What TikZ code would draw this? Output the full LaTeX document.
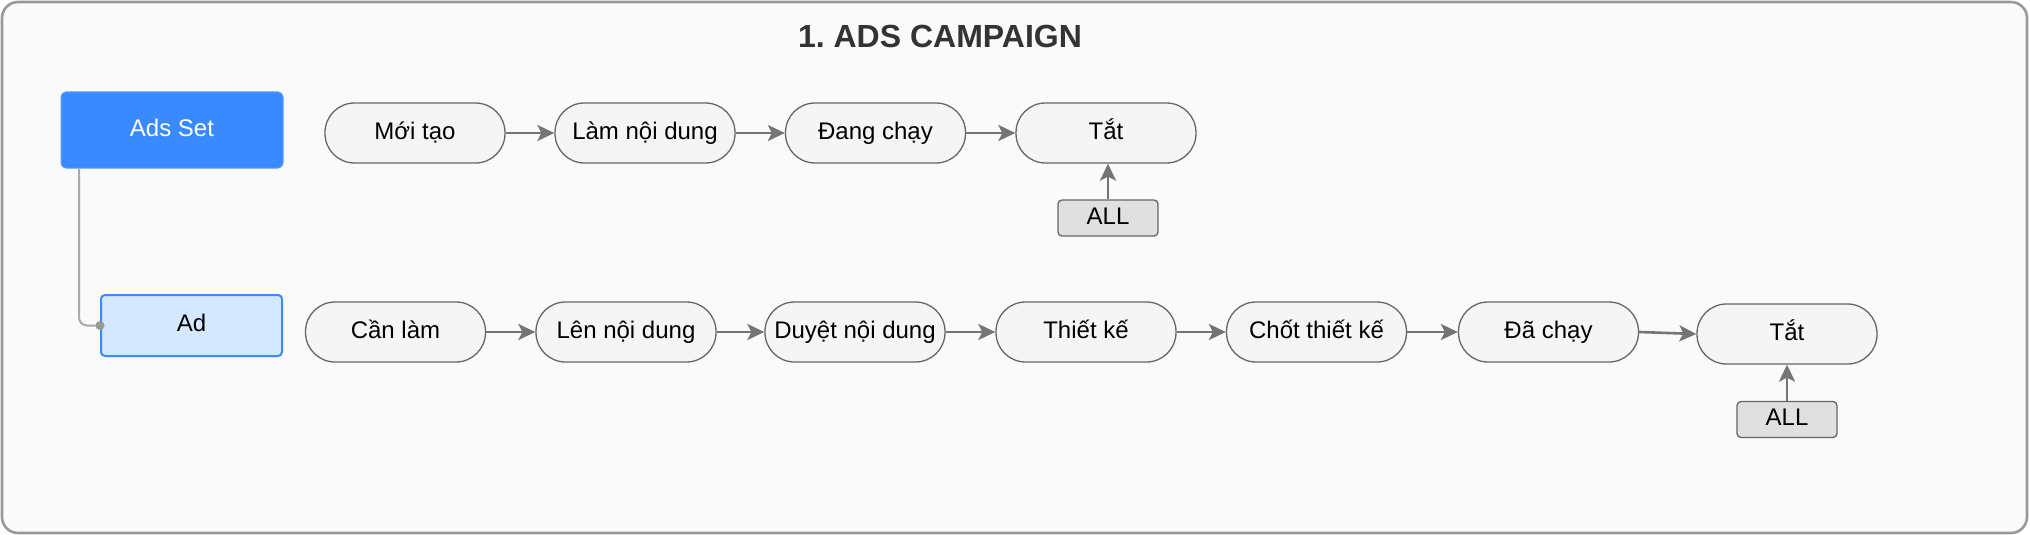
\documentclass[tikz,border=0pt]{standalone}
\usepackage{fontspec}
\setmainfont{Liberation Sans}
\usetikzlibrary{arrows.meta}
\frenchspacing
\definecolor{framegray}{HTML}{999999}
\definecolor{bgcol}{HTML}{FAFAFA}
\definecolor{pillfill}{HTML}{F5F5F5}
\definecolor{pilldraw}{HTML}{666666}
\definecolor{arrowgray}{HTML}{757575}
\definecolor{allfill}{HTML}{E0E0E0}
\definecolor{setblue}{HTML}{3A8AFF}
\definecolor{adfill}{HTML}{D4E8FF}
\definecolor{titlecol}{HTML}{333333}
\definecolor{linkgray}{HTML}{AAAAAA}
\tikzset{
  txt/.style={font=\fontsize{24}{28}\selectfont, text=black, text height=17pt, text depth=5pt},
  pill/.style={txt, draw=pilldraw, fill=pillfill, line width=1.3pt, rounded corners=29.5pt, minimum width=180pt, minimum height=60pt, inner sep=0pt},
  allbox/.style={txt, draw=pilldraw, fill=allfill, line width=1.3pt, rounded corners=4pt, minimum width=100pt, minimum height=36pt, inner sep=0pt},
  flow/.style={draw=arrowgray, line width=2.6pt, -{Stealth[length=17pt, width=16pt, inset=4pt]}},
}
\begin{document}
\begin{tikzpicture}[x=1pt,y=-1pt]
\useasboundingbox (0,0) rectangle (2030,535);
\draw[framegray, fill=bgcol, line width=2.6pt, rounded corners=16pt] (2,2) rectangle (2027,533);
\node[font=\fontsize{32}{36}\selectfont\bfseries, text=titlecol] (title) at (940,36) {1. ADS CAMPAIGN};

\node[txt, text=white, fill=setblue, draw=setblue!85!white, line width=1pt, rounded corners=5pt, minimum width=222pt, minimum height=76pt, inner sep=0pt] (adsset) at (172,130) {Ads Set};
\node[txt, fill=adfill, draw=setblue, line width=2pt, rounded corners=4pt, minimum width=181pt, minimum height=61pt, inner sep=0pt] (ad) at (191.5,325.5) {Ad};
\coordinate (adin) at (ad.west);
\draw[linkgray, line width=2pt, rounded corners=8pt] (adsset.south -| 79,0) -- (79,325.5) -- (adin);
\fill[framegray] (adin) circle (4.5pt);

% top row
\node[pill] (t1) at (415,133) {Mới tạo};
\node[pill] (t2) at (645,133) {Làm nội dung};
\node[pill] (t3) at (875.5,133) {Đang chạy};
\node[pill] (t4) at (1106,133) {Tắt};
\node[allbox] (tall) at (1108,218) {ALL};
\draw[flow] (t1) -- (t2);
\draw[flow] (t2) -- (t3);
\draw[flow] (t3) -- (t4);
\draw[flow] (tall.north) -- (tall.north |- t4.south);

% bottom row
\node[pill] (b1) at (395.5,332) {Cần làm};
\node[pill] (b2) at (626,332) {Lên nội dung};
\node[pill] (b3) at (855,332) {Duyệt nội dung};
\node[pill] (b4) at (1086,332) {Thiết kế};
\node[pill] (b5) at (1316.5,332) {Chốt thiết kế};
\node[pill] (b6) at (1548.5,332) {Đã chạy};
\node[pill] (b7) at (1787,334) {Tắt};
\node[allbox] (ball) at (1787,419.5) {ALL};
\draw[flow] (b1) -- (b2);
\draw[flow] (b2) -- (b3);
\draw[flow] (b3) -- (b4);
\draw[flow] (b4) -- (b5);
\draw[flow] (b5) -- (b6);
\draw[flow] (b6.east) -- (b7.west);
\draw[flow] (ball.north) -- (b7.south);
\end{tikzpicture}
\end{document}
